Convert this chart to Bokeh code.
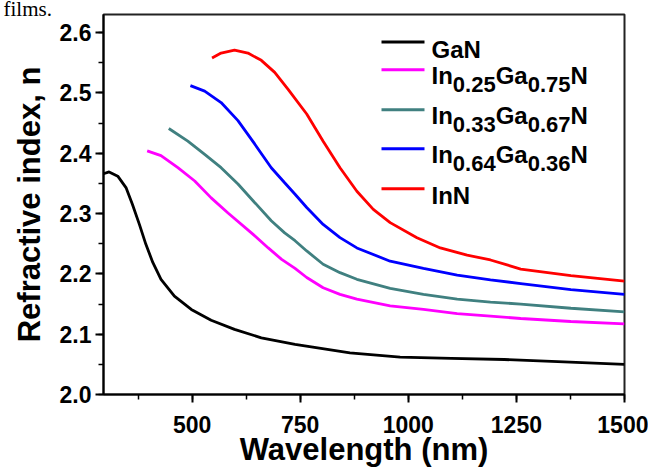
from bokeh.plotting import figure
from bokeh.models import Label, BoxAnnotation, SingleIntervalTicker, PrintfTickFormatter, Range1d, Title
from bokeh.embed import file_html
from bokeh.resources import INLINE

# ---- data ----
wl_gan = [295, 308, 328, 347, 362, 378, 393, 409, 428, 459, 498, 544, 598, 660, 738, 865, 981, 1100, 1222, 1360, 1500]
n_gan = [2.366, 2.369, 2.362, 2.343, 2.315, 2.282, 2.249, 2.219, 2.191, 2.163, 2.141, 2.123, 2.108, 2.094, 2.083, 2.069, 2.062, 2.060, 2.058, 2.054, 2.050]

wl_in25 = [396, 428, 467, 506, 544, 583, 637, 676, 707, 738, 765, 803, 842, 881, 958, 1035, 1113, 1190, 1260, 1376, 1500]
n_in25 = [2.404, 2.396, 2.376, 2.354, 2.326, 2.301, 2.268, 2.243, 2.224, 2.209, 2.194, 2.177, 2.166, 2.158, 2.147, 2.141, 2.134, 2.130, 2.126, 2.121, 2.117]

wl_in33 = [446, 490, 529, 567, 606, 645, 683, 714, 738, 765, 803, 842, 881, 958, 1035, 1113, 1190, 1260, 1376, 1500]
n_in33 = [2.441, 2.420, 2.398, 2.376, 2.349, 2.318, 2.288, 2.268, 2.255, 2.238, 2.216, 2.202, 2.191, 2.176, 2.166, 2.158, 2.153, 2.150, 2.143, 2.137]

wl_in64 = [496, 529, 567, 606, 645, 683, 714, 738, 765, 803, 842, 881, 958, 1035, 1113, 1190, 1260, 1376, 1500]
n_in64 = [2.512, 2.503, 2.484, 2.454, 2.415, 2.376, 2.351, 2.332, 2.310, 2.282, 2.260, 2.243, 2.221, 2.209, 2.198, 2.190, 2.184, 2.174, 2.166]

wl_inn = [546, 567, 598, 629, 660, 691, 722, 765, 803, 842, 881, 919, 958, 1020, 1074, 1136, 1190, 1260, 1376, 1500]
n_inn = [2.558, 2.566, 2.571, 2.566, 2.554, 2.534, 2.506, 2.465, 2.420, 2.376, 2.337, 2.307, 2.285, 2.260, 2.243, 2.231, 2.223, 2.208, 2.197, 2.188]

series_names = ["GaN", "In0.25Ga0.75N", "In0.33Ga0.67N", "In0.64Ga0.36N", "InN"]
# legend label pieces: (text, is_subscript)
legend_parts = [
    [("GaN", False)],
    [("In", False), ("0.25", True), ("Ga", False), ("0.75", True), ("N", False)],
    [("In", False), ("0.33", True), ("Ga", False), ("0.67", True), ("N", False)],
    [("In", False), ("0.64", True), ("Ga", False), ("0.36", True), ("N", False)],
    [("InN", False)],
]
colors = ["#000000", "#FF00FF", "#408080", "#0000FF", "#FF0000"]
xs = [wl_gan, wl_in25, wl_in33, wl_in64, wl_inn]
ys = [n_gan, n_in25, n_in33, n_in64, n_inn]

FONT = "Liberation Sans"

p = figure(width=648, height=470, x_range=Range1d(295, 1500), y_range=Range1d(2.0, 2.63),
           output_backend="svg", toolbar_location=None,
           min_border_left=103, min_border_right=24, min_border_top=14, min_border_bottom=76)
p.xgrid.visible = False
p.ygrid.visible = False
p.outline_line_color = "#222222"
p.outline_line_width = 2
p.background_fill_color = "white"
p.border_fill_color = "white"

for x, y, c in zip(xs, ys, colors):
    p.line(x, y, line_color=c, line_width=2.8)

p.xaxis.ticker = SingleIntervalTicker(interval=250, num_minor_ticks=2)
p.yaxis.ticker = SingleIntervalTicker(interval=0.1, num_minor_ticks=2)
p.yaxis.formatter = PrintfTickFormatter(format="%.1f")
p.xaxis.axis_label = "Wavelength (nm)"
p.yaxis.axis_label = "Refractive index, n"
for ax in (p.xaxis, p.yaxis):
    ax.axis_line_color = "black"
    ax.axis_line_width = 2
    ax.major_tick_line_color = "black"
    ax.major_tick_line_width = 2
    ax.minor_tick_line_color = "black"
    ax.minor_tick_line_width = 1.5
    ax.major_tick_in = 0
    ax.major_tick_out = 8
    ax.minor_tick_in = 0
    ax.minor_tick_out = 5
    ax.major_label_text_font = FONT
    ax.major_label_text_font_style = "bold"
    ax.major_label_text_font_size = "23px"
    ax.major_label_text_color = "black"
    ax.axis_label_text_font = FONT
    ax.axis_label_text_font_style = "bold"
    ax.axis_label_text_font_size = "31px"
    ax.axis_label_text_color = "black"
p.xaxis.major_label_standoff = 13
p.xaxis.axis_label_standoff = -4
p.yaxis.major_label_standoff = 4
p.yaxis.axis_label_standoff = 10

# cropped caption remnant at the very top-left of the reference
p.add_layout(Title(text="films.", align="left", offset=-100, standoff=-12,
                   text_font="Liberation Serif", text_font_style="normal", text_font_size="21px",
                   text_color="black"), "above")

# ---- manual legend (canvas units) ----
W = {"0": .556, "1": .556, "2": .556, "3": .556, "4": .556, "5": .556, "6": .556, "7": .556,
     "8": .556, "9": .556, ".": .278, "I": .278, "n": .611, "G": .778, "a": .556, "N": .722}
MAIN, SUB = 24, 22
row_y = [41.5, 69.3, 109.3, 148.3, 188.3]
line_left, line_right, text_left = 381, 424, 431
for parts, c, ly in zip(legend_parts, colors, row_y):
    p.add_layout(BoxAnnotation(left=line_left, right=line_right, top=ly - 1.5, bottom=ly + 1.5,
                               left_units="canvas", right_units="canvas", top_units="canvas", bottom_units="canvas",
                               fill_color=c, fill_alpha=1, line_alpha=0))
    has_sub = any(s for _, s in parts)
    base = ly + (6 if has_sub else 7)
    xpos = text_left
    for txt, sub in parts:
        size = SUB if sub else MAIN
        yb = base + 8.5 if sub else base
        p.add_layout(Label(x=xpos, y=yb, x_units="canvas", y_units="canvas", text=txt,
                           text_font=FONT, text_font_style="bold", text_font_size=f"{size}px",
                           text_color="black", text_baseline="alphabetic", text_align="left"))
        xpos += sum(W[ch] for ch in txt) * size

open("out.html", "w").write(file_html(p, INLINE))
